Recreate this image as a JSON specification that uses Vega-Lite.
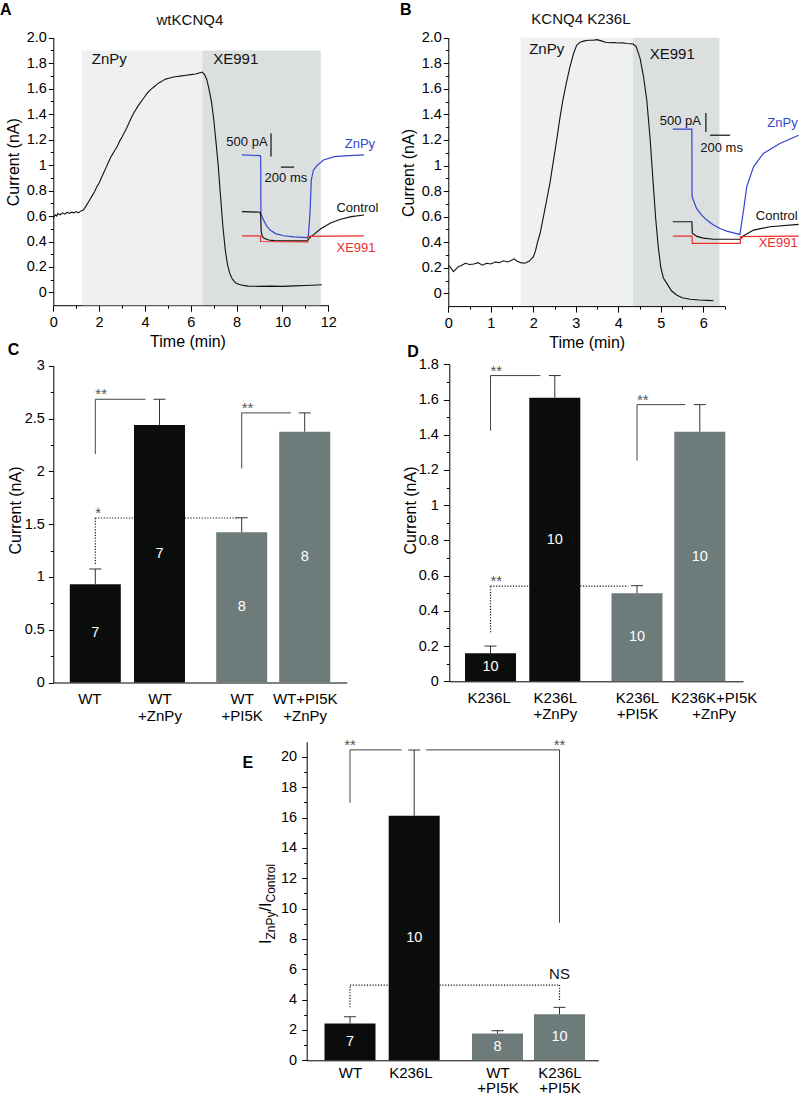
{
"$schema":"https://vega.github.io/schema/vega-lite/v6.json",
"width":800,"height":1095,
"autosize":{"type":"none"},
"padding":0,
"background":"white",
"config":{"view":{"stroke":null},"font":"Liberation Sans","text":{"font":"Liberation Sans"},
"axis":{"labelFont":"Liberation Sans","titleFont":"Liberation Sans","labelFontSize":14.5,"titleFontSize":16,"titleFontWeight":"normal","labelColor":"#000","titleColor":"#000","domainColor":"#000","tickColor":"#000","grid":false,"labelFlush":false,"labelOverlap":false,"domainWidth":1,"tickWidth":1}},
"datasets":{
"barsC":[{"i":1,"pi5k":"no","value":0.93,"upper":1.075,"n":7},{"i":2,"pi5k":"no","value":2.438,"upper":2.682,"n":7},{"i":3,"pi5k":"yes","value":1.422,"upper":1.56,"n":8},{"i":4,"pi5k":"yes","value":2.375,"upper":2.553,"n":8}],
"barsD":[{"i":1,"pi5k":"no","value":0.159,"upper":0.2,"n":10},{"i":2,"pi5k":"no","value":1.61,"upper":1.736,"n":10},{"i":3,"pi5k":"yes","value":0.5,"upper":0.543,"n":10},{"i":4,"pi5k":"yes","value":1.417,"upper":1.571,"n":10}],
"barsE":[{"i":1,"pi5k":"no","value":2.43,"upper":2.87,"n":7},{"i":2,"pi5k":"no","value":16.12,"upper":20.45,"n":10},{"i":3,"pi5k":"yes","value":1.77,"upper":1.95,"n":8},{"i":4,"pi5k":"yes","value":3.03,"upper":3.49,"n":10}]
},
"resolve":{"scale":{"x":"independent","y":"independent","fill":"independent","stroke":"independent"},"axis":{"x":"independent","y":"independent"}},
"layer":[
{
"resolve":{"scale":{"fill":"independent","stroke":"independent"},"axis":{"x":"independent","y":"independent"}},
"layer":[
{"data":{"values":[{"phase":"ZnPy","start":1.24,"end":6.5},{"phase":"XE991","start":6.5,"end":11.67}]},
"mark":{"type":"rect"},
"encoding":{"x":{"field":"start","type":"quantitative","scale":{"domain":[0,12],"range":[53.3,328.3],"nice":false,"zero":false},"axis":null},"x2":{"field":"end"},
"y":{"datum":1.9,"type":"quantitative","scale":{"domain":[-0.1,2],"range":[305.2,37.7],"nice":false,"zero":false},"axis":null},"y2":{"datum":-0.1},
"fill":{"field":"phase","type":"nominal","scale":{"domain":["ZnPy","XE991"],"range":["#eef0f1","#dcdfe0"]},"legend":null}}},
{"data":{"values":[{"label":"ZnPy","t":1.68,"I":1.794},{"label":"XE991","t":6.98,"I":1.794}]},
"mark":{"type":"text","align":"left","baseline":"alphabetic","fontSize":15,"color":"#111"},
"encoding":{"x":{"field":"t","type":"quantitative","scale":{"domain":[0,12],"range":[53.3,328.3],"nice":false,"zero":false},"axis":null},"y":{"field":"I","type":"quantitative","scale":{"domain":[-0.1,2],"range":[305.2,37.7],"nice":false,"zero":false},"axis":null},"text":{"field":"label"}}},
{"data":{"values":[{"t":0,"I":0.58},{"t":0.05,"I":0.6},{"t":0.1,"I":0.61},{"t":0.15,"I":0.6},{"t":0.2,"I":0.62},{"t":0.3,"I":0.61},{"t":0.4,"I":0.625},{"t":0.5,"I":0.615},{"t":0.6,"I":0.63},{"t":0.7,"I":0.62},{"t":0.8,"I":0.63},{"t":0.9,"I":0.625},{"t":1.0,"I":0.635},{"t":1.1,"I":0.625},{"t":1.2,"I":0.64},{"t":1.3,"I":0.645},{"t":1.4,"I":0.67},{"t":1.5,"I":0.7},{"t":1.6,"I":0.73},{"t":1.7,"I":0.76},{"t":1.8,"I":0.79},{"t":1.9,"I":0.83},{"t":2.0,"I":0.86},{"t":2.1,"I":0.9},{"t":2.2,"I":0.94},{"t":2.3,"I":0.98},{"t":2.4,"I":1.02},{"t":2.5,"I":1.06},{"t":2.6,"I":1.09},{"t":2.7,"I":1.12},{"t":2.8,"I":1.15},{"t":2.9,"I":1.19},{"t":3.0,"I":1.22},{"t":3.1,"I":1.255},{"t":3.2,"I":1.29},{"t":3.3,"I":1.33},{"t":3.4,"I":1.37},{"t":3.5,"I":1.405},{"t":3.6,"I":1.435},{"t":3.7,"I":1.465},{"t":3.8,"I":1.49},{"t":3.9,"I":1.515},{"t":4.0,"I":1.54},{"t":4.1,"I":1.565},{"t":4.2,"I":1.585},{"t":4.3,"I":1.6},{"t":4.4,"I":1.615},{"t":4.5,"I":1.63},{"t":4.6,"I":1.645},{"t":4.7,"I":1.655},{"t":4.8,"I":1.665},{"t":4.9,"I":1.675},{"t":5.0,"I":1.68},{"t":5.2,"I":1.69},{"t":5.4,"I":1.695},{"t":5.6,"I":1.7},{"t":5.8,"I":1.705},{"t":6.0,"I":1.71},{"t":6.2,"I":1.715},{"t":6.4,"I":1.725},{"t":6.5,"I":1.73},{"t":6.6,"I":1.71},{"t":6.7,"I":1.67},{"t":6.8,"I":1.59},{"t":6.9,"I":1.5},{"t":7.0,"I":1.36},{"t":7.1,"I":1.18},{"t":7.2,"I":0.99},{"t":7.3,"I":0.75},{"t":7.4,"I":0.52},{"t":7.5,"I":0.34},{"t":7.6,"I":0.22},{"t":7.7,"I":0.15},{"t":7.8,"I":0.11},{"t":7.9,"I":0.085},{"t":8.0,"I":0.07},{"t":8.2,"I":0.058},{"t":8.5,"I":0.05},{"t":9.0,"I":0.048},{"t":9.5,"I":0.05},{"t":10.0,"I":0.048},{"t":10.5,"I":0.052},{"t":11.0,"I":0.055},{"t":11.5,"I":0.058},{"t":11.72,"I":0.06}]},
"mark":{"type":"line","color":"#111","strokeWidth":1.1},
"encoding":{"x":{"field":"t","type":"quantitative","scale":{"domain":[0,12],"range":[53.3,328.3],"nice":false,"zero":false},"axis":{"orient":"bottom","offset":-789.8,"values":[0,2,4,6,8,10,12],"tickSize":6,"labelPadding":4,"title":"Time (min)","titleX":187.5,"titleY":41,"titleBaseline":"alphabetic"}},
"y":{"field":"I","type":"quantitative","scale":{"domain":[-0.1,2],"range":[305.2,37.7],"nice":false,"zero":false},"axis":{"orient":"left","offset":-53.3,"values":[0,0.2,0.4,0.6,0.8,1,1.2,1.4,1.6,1.8,2],"labelExpr":"datum.value == 2 ? '2.0' : format(datum.value, '~g')","tickSize":5,"labelPadding":2,"title":"Current (nA)","titleX":-40,"titleY":161.7,"titleBaseline":"middle"}}}},
{"data":{"values":[{"trace":"ZnPy","t":8.23,"I":1.08},{"trace":"ZnPy","t":9.03,"I":1.074},{"trace":"ZnPy","t":9.05,"I":1.06},{"trace":"ZnPy","t":9.06,"I":0.62},{"trace":"ZnPy","t":9.17,"I":0.57},{"trace":"ZnPy","t":9.3,"I":0.525},{"trace":"ZnPy","t":9.46,"I":0.49},{"trace":"ZnPy","t":9.7,"I":0.462},{"trace":"ZnPy","t":10.05,"I":0.445},{"trace":"ZnPy","t":10.5,"I":0.436},{"trace":"ZnPy","t":11.09,"I":0.43},{"trace":"ZnPy","t":11.13,"I":0.44},{"trace":"ZnPy","t":11.2,"I":0.623},{"trace":"ZnPy","t":11.26,"I":0.885},{"trace":"ZnPy","t":11.35,"I":0.96},{"trace":"ZnPy","t":11.5,"I":0.995},{"trace":"ZnPy","t":11.79,"I":1.04},{"trace":"ZnPy","t":12.27,"I":1.066},{"trace":"ZnPy","t":12.9,"I":1.075},{"trace":"ZnPy","t":13.56,"I":1.08},
{"trace":"Control","t":8.23,"I":0.635},{"trace":"Control","t":8.6,"I":0.633},{"trace":"Control","t":9.03,"I":0.63},{"trace":"Control","t":9.05,"I":0.6},{"trace":"Control","t":9.07,"I":0.48},{"trace":"Control","t":9.12,"I":0.44},{"trace":"Control","t":9.2,"I":0.425},{"trace":"Control","t":9.4,"I":0.412},{"trace":"Control","t":9.63,"I":0.407},{"trace":"Control","t":10.4,"I":0.405},{"trace":"Control","t":11.09,"I":0.405},{"trace":"Control","t":11.16,"I":0.425},{"trace":"Control","t":11.4,"I":0.46},{"trace":"Control","t":11.67,"I":0.5},{"trace":"Control","t":12.1,"I":0.545},{"trace":"Control","t":12.54,"I":0.575},{"trace":"Control","t":13.0,"I":0.595},{"trace":"Control","t":13.56,"I":0.608},
{"trace":"XE991","t":8.23,"I":0.445},{"trace":"XE991","t":9.04,"I":0.445},{"trace":"XE991","t":9.045,"I":0.4},{"trace":"XE991","t":11.1,"I":0.397},{"trace":"XE991","t":11.105,"I":0.44},{"trace":"XE991","t":13.56,"I":0.445}]},
"mark":{"type":"line","strokeWidth":1.2},
"encoding":{"x":{"field":"t","type":"quantitative","scale":{"domain":[0,12],"range":[53.3,328.3],"nice":false,"zero":false},"axis":{"orient":"bottom","offset":-789.8,"values":[1,3,5,7,9,11],"labels":false,"domain":false,"tickSize":3,"title":null}},
"y":{"field":"I","type":"quantitative","scale":{"domain":[-0.1,2],"range":[305.2,37.7],"nice":false,"zero":false},"axis":{"orient":"left","offset":-53.3,"values":[0.1,0.3,0.5,0.7,0.9,1.1,1.3,1.5,1.7,1.9],"labels":false,"domain":false,"tickSize":3,"title":null}},
"stroke":{"field":"trace","type":"nominal","scale":{"domain":["ZnPy","Control","XE991"],"range":["#3346d0","#111111","#e8302a"]},"legend":null}}},
{"data":{"values":[{"trace":"ZnPy","t":13.38,"I":1.133},{"trace":"Control","t":13.27,"I":0.635},{"trace":"XE991","t":13.21,"I":0.314}]},
"mark":{"type":"text","align":"center","baseline":"alphabetic","fontSize":13},
"encoding":{"x":{"field":"t","type":"quantitative","scale":{"domain":[0,12],"range":[53.3,328.3],"nice":false,"zero":false},"axis":null},"y":{"field":"I","type":"quantitative","scale":{"domain":[-0.1,2],"range":[305.2,37.7],"nice":false,"zero":false},"axis":null},"text":{"field":"trace"},
"fill":{"field":"trace","type":"nominal","scale":{"domain":["ZnPy","Control","XE991"],"range":["#3346d0","#111111","#e8302a"]},"legend":null}}},
{"data":{"values":[{"bar":"500 pA","t":9.5,"t2":9.5,"I":1.067,"I2":1.25},{"bar":"200 ms","t":9.93,"t2":10.51,"I":0.984,"I2":0.984}]},
"mark":{"type":"rule","color":"#111","strokeWidth":1.2},
"encoding":{"x":{"field":"t","type":"quantitative","scale":{"domain":[0,12],"range":[53.3,328.3],"nice":false,"zero":false},"axis":null},"x2":{"field":"t2"},"y":{"field":"I","type":"quantitative","scale":{"domain":[-0.1,2],"range":[305.2,37.7],"nice":false,"zero":false},"axis":null},"y2":{"field":"I2"}}},
{"data":{"values":[{"text":"500 pA","t":8.45,"I":1.15},{"text":"200 ms","t":10.15,"I":0.871}]},
"mark":{"type":"text","align":"center","baseline":"alphabetic","fontSize":13,"color":"#111"},
"encoding":{"x":{"field":"t","type":"quantitative","scale":{"domain":[0,12],"range":[53.3,328.3],"nice":false,"zero":false},"axis":null},"y":{"field":"I","type":"quantitative","scale":{"domain":[-0.1,2],"range":[305.2,37.7],"nice":false,"zero":false},"axis":null},"text":{"field":"text"}}},
{"data":{"values":[{"text":"wtKCNQ4","t":5.96,"I":2.098}]},
"mark":{"type":"text","align":"center","baseline":"alphabetic","fontSize":15,"color":"#111"},
"encoding":{"x":{"field":"t","type":"quantitative","scale":{"domain":[0,12],"range":[53.3,328.3],"nice":false,"zero":false},"axis":null},"y":{"field":"I","type":"quantitative","scale":{"domain":[-0.1,2],"range":[305.2,37.7],"nice":false,"zero":false},"axis":null},"text":{"field":"text"}}},
{"data":{"values":[{"text":"A","t":-2.326,"I":2.176}]},
"mark":{"type":"text","align":"left","baseline":"alphabetic","fontSize":16,"fontWeight":"bold","color":"#000"},
"encoding":{"x":{"field":"t","type":"quantitative","scale":{"domain":[0,12],"range":[53.3,328.3],"nice":false,"zero":false},"axis":null},"y":{"field":"I","type":"quantitative","scale":{"domain":[-0.1,2],"range":[305.2,37.7],"nice":false,"zero":false},"axis":null},"text":{"field":"text"}}}
]},
{
"resolve":{"scale":{"fill":"independent","stroke":"independent"},"axis":{"x":"independent","y":"independent"}},
"layer":[
{"data":{"values":[{"phase":"ZnPy","start":1.7,"end":4.346},{"phase":"XE991","start":4.346,"end":6.38}]},
"mark":{"type":"rect"},
"encoding":{"x":{"field":"start","type":"quantitative","scale":{"domain":[0,6.5],"range":[448.3,724.6],"nice":false,"zero":false},"axis":null},"x2":{"field":"end"},
"y":{"datum":2,"type":"quantitative","scale":{"domain":[-0.1,2],"range":[306.1,37.7],"nice":false,"zero":false},"axis":null},"y2":{"datum":-0.1},
"fill":{"field":"phase","type":"nominal","scale":{"domain":["ZnPy","XE991"],"range":["#eef0f1","#dcdfe0"]},"legend":null}}},
{"data":{"values":[{"label":"ZnPy","t":1.903,"I":1.87},{"label":"XE991","t":4.738,"I":1.836}]},
"mark":{"type":"text","align":"left","baseline":"alphabetic","fontSize":15,"color":"#111"},
"encoding":{"x":{"field":"t","type":"quantitative","scale":{"domain":[0,6.5],"range":[448.3,724.6],"nice":false,"zero":false},"axis":null},"y":{"field":"I","type":"quantitative","scale":{"domain":[-0.1,2],"range":[306.1,37.7],"nice":false,"zero":false},"axis":null},"text":{"field":"label"}}},
{"data":{"values":[{"t":0,"I":0.22},{"t":0.06,"I":0.2},{"t":0.12,"I":0.17},{"t":0.18,"I":0.19},{"t":0.24,"I":0.21},{"t":0.3,"I":0.215},{"t":0.4,"I":0.235},{"t":0.5,"I":0.225},{"t":0.6,"I":0.23},{"t":0.7,"I":0.24},{"t":0.8,"I":0.22},{"t":0.9,"I":0.235},{"t":1.0,"I":0.23},{"t":1.1,"I":0.245},{"t":1.2,"I":0.24},{"t":1.3,"I":0.255},{"t":1.4,"I":0.245},{"t":1.5,"I":0.26},{"t":1.55,"I":0.27},{"t":1.6,"I":0.255},{"t":1.7,"I":0.24},{"t":1.8,"I":0.235},{"t":1.9,"I":0.25},{"t":2.0,"I":0.285},{"t":2.05,"I":0.33},{"t":2.1,"I":0.4},{"t":2.16,"I":0.47},{"t":2.25,"I":0.62},{"t":2.32,"I":0.74},{"t":2.39,"I":0.86},{"t":2.47,"I":1.03},{"t":2.55,"I":1.2},{"t":2.63,"I":1.38},{"t":2.7,"I":1.52},{"t":2.78,"I":1.65},{"t":2.86,"I":1.77},{"t":2.95,"I":1.88},{"t":3.02,"I":1.94},{"t":3.1,"I":1.965},{"t":3.2,"I":1.975},{"t":3.3,"I":1.98},{"t":3.4,"I":1.98},{"t":3.5,"I":1.985},{"t":3.6,"I":1.975},{"t":3.7,"I":1.965},{"t":3.8,"I":1.96},{"t":3.9,"I":1.962},{"t":4.0,"I":1.958},{"t":4.1,"I":1.96},{"t":4.2,"I":1.955},{"t":4.3,"I":1.953},{"t":4.35,"I":1.95},{"t":4.42,"I":1.93},{"t":4.51,"I":1.84},{"t":4.59,"I":1.7},{"t":4.67,"I":1.51},{"t":4.75,"I":1.2},{"t":4.82,"I":0.86},{"t":4.88,"I":0.58},{"t":4.94,"I":0.36},{"t":5.0,"I":0.2},{"t":5.06,"I":0.12},{"t":5.14,"I":0.078},{"t":5.25,"I":0.02},{"t":5.37,"I":-0.013},{"t":5.5,"I":-0.035},{"t":5.69,"I":-0.047},{"t":5.9,"I":-0.052},{"t":6.1,"I":-0.055},{"t":6.24,"I":-0.058}]},
"mark":{"type":"line","color":"#111","strokeWidth":1.1},
"encoding":{"x":{"field":"t","type":"quantitative","scale":{"domain":[0,6.5],"range":[448.3,724.6],"nice":false,"zero":false},"axis":{"orient":"bottom","offset":-788.9,"values":[0,1,2,3,4,5,6],"tickSize":6,"labelPadding":4,"title":"Time (min)","titleX":586.7,"titleY":41,"titleBaseline":"alphabetic"}},
"y":{"field":"I","type":"quantitative","scale":{"domain":[-0.1,2],"range":[306.1,37.7],"nice":false,"zero":false},"axis":{"orient":"left","offset":-448.3,"values":[0,0.2,0.4,0.6,0.8,1,1.2,1.4,1.6,1.8,2],"labelExpr":"datum.value == 2 ? '2.0' : format(datum.value, '~g')","tickSize":5,"labelPadding":2,"title":"Current (nA)","titleX":-40.3,"titleY":172.5,"titleBaseline":"middle"}}}},
{"data":{"values":[{"trace":"ZnPy","t":5.28,"I":1.284},{"trace":"ZnPy","t":5.73,"I":1.284},{"trace":"ZnPy","t":5.735,"I":0.755},{"trace":"ZnPy","t":5.84,"I":0.664},{"trace":"ZnPy","t":5.95,"I":0.615},{"trace":"ZnPy","t":6.08,"I":0.573},{"trace":"ZnPy","t":6.23,"I":0.537},{"trace":"ZnPy","t":6.39,"I":0.507},{"trace":"ZnPy","t":6.55,"I":0.487},{"trace":"ZnPy","t":6.71,"I":0.473},{"trace":"ZnPy","t":6.86,"I":0.461},{"trace":"ZnPy","t":6.957,"I":0.677},{"trace":"ZnPy","t":7.02,"I":0.833},{"trace":"ZnPy","t":7.18,"I":0.99},{"trace":"ZnPy","t":7.41,"I":1.094},{"trace":"ZnPy","t":7.8,"I":1.172},{"trace":"ZnPy","t":8.24,"I":1.237},
{"trace":"Control","t":5.28,"I":0.56},{"trace":"Control","t":5.73,"I":0.56},{"trace":"Control","t":5.74,"I":0.47},{"trace":"Control","t":5.85,"I":0.445},{"trace":"Control","t":6.0,"I":0.432},{"trace":"Control","t":6.24,"I":0.423},{"trace":"Control","t":6.86,"I":0.423},{"trace":"Control","t":6.94,"I":0.449},{"trace":"Control","t":7.18,"I":0.495},{"trace":"Control","t":7.57,"I":0.521},{"trace":"Control","t":8.24,"I":0.539},
{"trace":"XE991","t":5.28,"I":0.448},{"trace":"XE991","t":5.735,"I":0.448},{"trace":"XE991","t":5.74,"I":0.39},{"trace":"XE991","t":6.87,"I":0.39},{"trace":"XE991","t":6.875,"I":0.443},{"trace":"XE991","t":8.24,"I":0.448}]},
"mark":{"type":"line","strokeWidth":1.2},
"encoding":{"x":{"field":"t","type":"quantitative","scale":{"domain":[0,6.5],"range":[448.3,724.6],"nice":false,"zero":false},"axis":{"orient":"bottom","offset":-788.9,"values":[0.5,1.5,2.5,3.5,4.5,5.5,6.5],"labels":false,"domain":false,"tickSize":3,"title":null}},
"y":{"field":"I","type":"quantitative","scale":{"domain":[-0.1,2],"range":[306.1,37.7],"nice":false,"zero":false},"axis":{"orient":"left","offset":-448.3,"values":[0.1,0.3,0.5,0.7,0.9,1.1,1.3,1.5,1.7,1.9],"labels":false,"domain":false,"tickSize":3,"title":null}},
"stroke":{"field":"trace","type":"nominal","scale":{"domain":["ZnPy","Control","XE991"],"range":["#3346d0","#111111","#e8302a"]},"legend":null}}},
{"data":{"values":[{"trace":"ZnPy","t":8.22,"I":1.3},{"trace":"Control","t":8.22,"I":0.573},{"trace":"XE991","t":8.22,"I":0.36}]},
"mark":{"type":"text","align":"right","baseline":"alphabetic","fontSize":13},
"encoding":{"x":{"field":"t","type":"quantitative","scale":{"domain":[0,6.5],"range":[448.3,724.6],"nice":false,"zero":false},"axis":null},"y":{"field":"I","type":"quantitative","scale":{"domain":[-0.1,2],"range":[306.1,37.7],"nice":false,"zero":false},"axis":null},"text":{"field":"trace"},
"fill":{"field":"trace","type":"nominal","scale":{"domain":["ZnPy","Control","XE991"],"range":["#3346d0","#111111","#e8302a"]},"legend":null}}},
{"data":{"values":[{"bar":"500 pA","t":6.06,"t2":6.06,"I":1.262,"I2":1.41},{"bar":"200 ms","t":6.16,"t2":6.63,"I":1.237,"I2":1.237}]},
"mark":{"type":"rule","color":"#111","strokeWidth":1.2},
"encoding":{"x":{"field":"t","type":"quantitative","scale":{"domain":[0,6.5],"range":[448.3,724.6],"nice":false,"zero":false},"axis":null},"x2":{"field":"t2"},"y":{"field":"I","type":"quantitative","scale":{"domain":[-0.1,2],"range":[306.1,37.7],"nice":false,"zero":false},"axis":null},"y2":{"field":"I2"}}},
{"data":{"values":[{"text":"500 pA","t":5.46,"I":1.315},{"text":"200 ms","t":6.43,"I":1.106}]},
"mark":{"type":"text","align":"center","baseline":"alphabetic","fontSize":13,"color":"#111"},
"encoding":{"x":{"field":"t","type":"quantitative","scale":{"domain":[0,6.5],"range":[448.3,724.6],"nice":false,"zero":false},"axis":null},"y":{"field":"I","type":"quantitative","scale":{"domain":[-0.1,2],"range":[306.1,37.7],"nice":false,"zero":false},"axis":null},"text":{"field":"text"}}},
{"data":{"values":[{"text":"KCNQ4 K236L","t":3.12,"I":2.106}]},
"mark":{"type":"text","align":"center","baseline":"alphabetic","fontSize":15,"color":"#111"},
"encoding":{"x":{"field":"t","type":"quantitative","scale":{"domain":[0,6.5],"range":[448.3,724.6],"nice":false,"zero":false},"axis":null},"y":{"field":"I","type":"quantitative","scale":{"domain":[-0.1,2],"range":[306.1,37.7],"nice":false,"zero":false},"axis":null},"text":{"field":"text"}}},
{"data":{"values":[{"text":"B","t":-1.135,"I":2.176}]},
"mark":{"type":"text","align":"left","baseline":"alphabetic","fontSize":16,"fontWeight":"bold","color":"#000"},
"encoding":{"x":{"field":"t","type":"quantitative","scale":{"domain":[0,6.5],"range":[448.3,724.6],"nice":false,"zero":false},"axis":null},"y":{"field":"I","type":"quantitative","scale":{"domain":[-0.1,2],"range":[306.1,37.7],"nice":false,"zero":false},"axis":null},"text":{"field":"text"}}}
]},
{
"resolve":{"axis":{"x":"independent","y":"independent"}},
"layer":[
{"data":{"name":"barsC"},
"mark":{"type":"bar","width":51,"orient":"vertical"},
"encoding":{"x":{"field":"i","type":"quantitative","scale":{"domain":[0,1,2,3,4,5],"range":[53.3,95.3,159.5,241.7,304.7,346.7],"nice":false,"zero":false},"axis":{"orient":"bottom","offset":-412.5,"values":[0.845,2,3,4],"labelExpr":"datum.value == 0.845 ? 'WT' : datum.value == 2 ? ['WT', '+ZnPy'] : datum.value == 3 ? ['WT', '+PI5K'] : ['WT+PI5K', '+ZnPy']","ticks":false,"tickSize":0,"labelPadding":9,"labelFontSize":15,"labelLineHeight":16.5,"labelAngle":0,"title":null}},
"y":{"field":"value","type":"quantitative","stack":null,"scale":{"domain":[0,3],"range":[682.5,365.7],"nice":false,"zero":false},"axis":{"orient":"left","offset":-53.3,"values":[0,0.5,1,1.5,2,2.5,3],"format":"~g","tickSize":5,"labelPadding":4,"title":"Current (nA)","titleX":-38.3,"titleY":510,"titleBaseline":"middle"}},
"fill":{"field":"pi5k","type":"nominal","scale":{"domain":["no","yes"],"range":["#0b0d0c","#6e7b7b"]},"legend":null}}},
{"data":{"name":"barsC"},
"mark":{"type":"rule","color":"#333","strokeWidth":1},
"encoding":{"x":{"field":"i","type":"quantitative","scale":{"domain":[0,1,2,3,4,5],"range":[53.3,95.3,159.5,241.7,304.7,346.7],"nice":false,"zero":false},"axis":null},
"y":{"field":"value","type":"quantitative","scale":{"domain":[0,3],"range":[682.5,365.7],"nice":false,"zero":false},"axis":{"orient":"left","offset":-53.3,"values":[0.25,0.75,1.25,1.75,2.25,2.75],"labels":false,"domain":false,"tickSize":3,"title":null}},"y2":{"field":"upper"}}},
{"data":{"name":"barsC"},
"mark":{"type":"rule","color":"#333","strokeWidth":1,"xOffset":-6,"x2Offset":6},
"encoding":{"x":{"field":"i","type":"quantitative","scale":{"domain":[0,1,2,3,4,5],"range":[53.3,95.3,159.5,241.7,304.7,346.7],"nice":false,"zero":false},"axis":null},"x2":{"field":"i"},
"y":{"field":"upper","type":"quantitative","scale":{"domain":[0,3],"range":[682.5,365.7],"nice":false,"zero":false},"axis":null}}},
{"data":{"values":[{"from":1,"to":2,"level":2.682},{"from":3,"to":4,"level":2.553}]},
"mark":{"type":"rule","color":"#444","strokeWidth":1,"x2Offset":-14},
"encoding":{"x":{"field":"from","type":"quantitative","scale":{"domain":[0,1,2,3,4,5],"range":[53.3,95.3,159.5,241.7,304.7,346.7],"nice":false,"zero":false},"axis":null},"x2":{"field":"to"},
"y":{"field":"level","type":"quantitative","scale":{"domain":[0,3],"range":[682.5,365.7],"nice":false,"zero":false},"axis":null}}},
{"data":{"values":[{"at":1,"bottom":2.164,"top":2.682},{"at":3,"bottom":2.028,"top":2.553}]},
"mark":{"type":"rule","color":"#444","strokeWidth":1},
"encoding":{"x":{"field":"at","type":"quantitative","scale":{"domain":[0,1,2,3,4,5],"range":[53.3,95.3,159.5,241.7,304.7,346.7],"nice":false,"zero":false},"axis":null},
"y":{"field":"bottom","type":"quantitative","scale":{"domain":[0,3],"range":[682.5,365.7],"nice":false,"zero":false},"axis":null},"y2":{"field":"top"}}},
{"data":{"values":[{"from":1,"to":3,"level":1.558}]},
"mark":{"type":"rule","color":"#111","strokeWidth":1.2,"strokeDash":[1.2,1.6],"x2Offset":-4},
"encoding":{"x":{"field":"from","type":"quantitative","scale":{"domain":[0,1,2,3,4,5],"range":[53.3,95.3,159.5,241.7,304.7,346.7],"nice":false,"zero":false},"axis":null},"x2":{"field":"to"},
"y":{"field":"level","type":"quantitative","scale":{"domain":[0,3],"range":[682.5,365.7],"nice":false,"zero":false},"axis":null}}},
{"data":{"values":[{"at":1,"bottom":1.122,"top":1.558}]},
"mark":{"type":"rule","color":"#111","strokeWidth":1.2,"strokeDash":[1.2,1.6]},
"encoding":{"x":{"field":"at","type":"quantitative","scale":{"domain":[0,1,2,3,4,5],"range":[53.3,95.3,159.5,241.7,304.7,346.7],"nice":false,"zero":false},"axis":null},
"y":{"field":"bottom","type":"quantitative","scale":{"domain":[0,3],"range":[682.5,365.7],"nice":false,"zero":false},"axis":null},"y2":{"field":"top"}}},
{"data":{"values":[{"at":1,"level":2.682,"label":"**"},{"at":3,"level":2.553,"label":"**"},{"at":1,"level":1.558,"label":"*"}]},
"mark":{"type":"text","align":"left","baseline":"alphabetic","fontSize":15,"color":"#555"},
"encoding":{"x":{"field":"at","type":"quantitative","scale":{"domain":[0,1,2,3,4,5],"range":[53.3,95.3,159.5,241.7,304.7,346.7],"nice":false,"zero":false},"axis":null},
"y":{"field":"level","type":"quantitative","scale":{"domain":[0,3],"range":[682.5,365.7],"nice":false,"zero":false},"axis":null},"text":{"field":"label"}}},
{"data":{"values":[{"text":"C","x":-1.269,"y":3.097}]},
"mark":{"type":"text","align":"left","baseline":"alphabetic","fontSize":16,"fontWeight":"bold","color":"#000"},
"encoding":{"x":{"field":"x","type":"quantitative","scale":{"domain":[0,1,2,3,4,5],"range":[53.3,95.3,159.5,241.7,304.7,346.7],"nice":false,"zero":false},"axis":null},
"y":{"field":"y","type":"quantitative","scale":{"domain":[0,3],"range":[682.5,365.7],"nice":false,"zero":false},"axis":null},"text":{"field":"text"}}}
]},
{"data":{"name":"barsC"},
"mark":{"type":"text","color":"#fff","fontSize":14.5,"baseline":"middle","align":"center"},
"encoding":{"x":{"field":"i","type":"quantitative","scale":{"domain":[0,1,2,3,4,5],"range":[53.3,95.3,159.5,241.7,304.7,346.7],"nice":false,"zero":false},"axis":null},
"y":{"field":"value","type":"quantitative","scale":{"domain":[0,6],"range":[682.5,365.7],"nice":false,"zero":false},"axis":null},"text":{"field":"n"}}},
{
"resolve":{"axis":{"x":"independent","y":"independent"}},
"layer":[
{"data":{"name":"barsD"},
"mark":{"type":"bar","width":51,"orient":"vertical"},
"encoding":{"x":{"field":"i","type":"quantitative","scale":{"domain":[0,1,2,3,4,5],"range":[449.3,490.5,554.8,637,699.8,743],"nice":false,"zero":false},"axis":{"orient":"bottom","offset":-413.7,"values":[0.95,2,3,4.35],"labelExpr":"datum.value == 0.95 ? 'K236L' : datum.value == 2 ? ['K236L', '+ZnPy'] : datum.value == 3 ? ['K236L', '+PI5K'] : ['K236K+PI5K', '+ZnPy']","ticks":false,"tickSize":0,"labelPadding":9,"labelFontSize":15,"labelLineHeight":16.5,"labelAngle":0,"title":null}},
"y":{"field":"value","type":"quantitative","stack":null,"scale":{"domain":[0,1.8],"range":[681.3,364.3],"nice":false,"zero":false},"axis":{"orient":"left","offset":-449.3,"values":[0,0.2,0.4,0.6,0.8,1,1.2,1.4,1.6,1.8],"format":"~g","tickSize":6,"labelPadding":5,"title":"Current (nA)","titleX":-39.3,"titleY":510,"titleBaseline":"middle"}},
"fill":{"field":"pi5k","type":"nominal","scale":{"domain":["no","yes"],"range":["#0b0d0c","#6e7b7b"]},"legend":null}}},
{"data":{"name":"barsD"},
"mark":{"type":"rule","color":"#333","strokeWidth":1},
"encoding":{"x":{"field":"i","type":"quantitative","scale":{"domain":[0,1,2,3,4,5],"range":[449.3,490.5,554.8,637,699.8,743],"nice":false,"zero":false},"axis":null},
"y":{"field":"value","type":"quantitative","scale":{"domain":[0,1.8],"range":[681.3,364.3],"nice":false,"zero":false},"axis":{"orient":"left","offset":-449.3,"values":[0.1,0.3,0.5,0.7,0.9,1.1,1.3,1.5,1.7],"labels":false,"domain":false,"tickSize":3,"title":null}},"y2":{"field":"upper"}}},
{"data":{"name":"barsD"},
"mark":{"type":"rule","color":"#333","strokeWidth":1,"xOffset":-6,"x2Offset":6},
"encoding":{"x":{"field":"i","type":"quantitative","scale":{"domain":[0,1,2,3,4,5],"range":[449.3,490.5,554.8,637,699.8,743],"nice":false,"zero":false},"axis":null},"x2":{"field":"i"},
"y":{"field":"upper","type":"quantitative","scale":{"domain":[0,1.8],"range":[681.3,364.3],"nice":false,"zero":false},"axis":null}}},
{"data":{"values":[{"from":1,"to":2,"level":1.736},{"from":3,"to":4,"level":1.571}]},
"mark":{"type":"rule","color":"#444","strokeWidth":1,"x2Offset":-14.5},
"encoding":{"x":{"field":"from","type":"quantitative","scale":{"domain":[0,1,2,3,4,5],"range":[449.3,490.5,554.8,637,699.8,743],"nice":false,"zero":false},"axis":null},"x2":{"field":"to"},
"y":{"field":"level","type":"quantitative","scale":{"domain":[0,1.8],"range":[681.3,364.3],"nice":false,"zero":false},"axis":null}}},
{"data":{"values":[{"at":1,"bottom":1.423,"top":1.736},{"at":3,"bottom":1.253,"top":1.571}]},
"mark":{"type":"rule","color":"#444","strokeWidth":1},
"encoding":{"x":{"field":"at","type":"quantitative","scale":{"domain":[0,1,2,3,4,5],"range":[449.3,490.5,554.8,637,699.8,743],"nice":false,"zero":false},"axis":null},
"y":{"field":"bottom","type":"quantitative","scale":{"domain":[0,1.8],"range":[681.3,364.3],"nice":false,"zero":false},"axis":null},"y2":{"field":"top"}}},
{"data":{"values":[{"from":1,"to":3,"level":0.54}]},
"mark":{"type":"rule","color":"#111","strokeWidth":1.2,"strokeDash":[1.2,1.6],"x2Offset":-8.7},
"encoding":{"x":{"field":"from","type":"quantitative","scale":{"domain":[0,1,2,3,4,5],"range":[449.3,490.5,554.8,637,699.8,743],"nice":false,"zero":false},"axis":null},"x2":{"field":"to"},
"y":{"field":"level","type":"quantitative","scale":{"domain":[0,1.8],"range":[681.3,364.3],"nice":false,"zero":false},"axis":null}}},
{"data":{"values":[{"at":1,"bottom":0.278,"top":0.54}]},
"mark":{"type":"rule","color":"#111","strokeWidth":1.2,"strokeDash":[1.2,1.6]},
"encoding":{"x":{"field":"at","type":"quantitative","scale":{"domain":[0,1,2,3,4,5],"range":[449.3,490.5,554.8,637,699.8,743],"nice":false,"zero":false},"axis":null},
"y":{"field":"bottom","type":"quantitative","scale":{"domain":[0,1.8],"range":[681.3,364.3],"nice":false,"zero":false},"axis":null},"y2":{"field":"top"}}},
{"data":{"values":[{"at":1,"level":1.736,"label":"**"},{"at":3,"level":1.571,"label":"**"},{"at":1,"level":0.54,"label":"**"}]},
"mark":{"type":"text","align":"left","baseline":"alphabetic","fontSize":15,"color":"#555"},
"encoding":{"x":{"field":"at","type":"quantitative","scale":{"domain":[0,1,2,3,4,5],"range":[449.3,490.5,554.8,637,699.8,743],"nice":false,"zero":false},"axis":null},
"y":{"field":"level","type":"quantitative","scale":{"domain":[0,1.8],"range":[681.3,364.3],"nice":false,"zero":false},"axis":null},"text":{"field":"label"}}},
{"data":{"values":[{"text":"D","x":-1.197,"y":1.841}]},
"mark":{"type":"text","align":"left","baseline":"alphabetic","fontSize":16,"fontWeight":"bold","color":"#000"},
"encoding":{"x":{"field":"x","type":"quantitative","scale":{"domain":[0,1,2,3,4,5],"range":[449.3,490.5,554.8,637,699.8,743],"nice":false,"zero":false},"axis":null},
"y":{"field":"y","type":"quantitative","scale":{"domain":[0,1.8],"range":[681.3,364.3],"nice":false,"zero":false},"axis":null},"text":{"field":"text"}}}
]},
{"data":{"name":"barsD"},
"mark":{"type":"text","color":"#fff","fontSize":14.5,"baseline":"middle","align":"center"},
"encoding":{"x":{"field":"i","type":"quantitative","scale":{"domain":[0,1,2,3,4,5],"range":[449.3,490.5,554.8,637,699.8,743],"nice":false,"zero":false},"axis":null},
"y":{"field":"value","type":"quantitative","scale":{"domain":[0,3.6],"range":[681.3,364.3],"nice":false,"zero":false},"axis":null},"text":{"field":"n"}}},
{
"resolve":{"axis":{"x":"independent","y":"independent"}},
"layer":[
{"data":{"name":"barsE"},
"mark":{"type":"bar","width":51,"orient":"vertical"},
"encoding":{"x":{"field":"i","type":"quantitative","scale":{"domain":[0,1,2,3,4,5],"range":[306.7,350,414.2,497.5,559.5,598.3],"nice":false,"zero":false},"axis":{"orient":"bottom","offset":-34.7,"values":[1,1.94,3,4],"labelExpr":"datum.value == 1 ? 'WT' : datum.value == 1.94 ? 'K236L' : datum.value == 3 ? ['WT', '+PI5K'] : ['K236L', '+PI5K']","ticks":false,"tickSize":0,"labelPadding":5,"labelFontSize":15,"labelLineHeight":15.5,"labelAngle":0,"title":null}},
"y":{"field":"value","type":"quantitative","stack":null,"scale":{"domain":[0,21],"range":[1060.3,741.7],"nice":false,"zero":false},"axis":{"orient":"left","offset":-306.7,"values":[0,2,4,6,8,10,12,14,16,18,20],"format":"~g","tickSize":5,"labelPadding":5,"title":null}},
"fill":{"field":"pi5k","type":"nominal","scale":{"domain":["no","yes"],"range":["#0b0d0c","#6e7b7b"]},"legend":null}}},
{"data":{"name":"barsE"},
"mark":{"type":"rule","color":"#333","strokeWidth":1},
"encoding":{"x":{"field":"i","type":"quantitative","scale":{"domain":[0,1,2,3,4,5],"range":[306.7,350,414.2,497.5,559.5,598.3],"nice":false,"zero":false},"axis":null},
"y":{"field":"value","type":"quantitative","scale":{"domain":[0,21],"range":[1060.3,741.7],"nice":false,"zero":false},"axis":{"orient":"left","offset":-306.7,"values":[1,3,5,7,9,11,13,15,17,19],"labels":false,"domain":false,"tickSize":3,"title":null}},"y2":{"field":"upper"}}},
{"data":{"name":"barsE"},
"mark":{"type":"rule","color":"#333","strokeWidth":1,"xOffset":-6,"x2Offset":6},
"encoding":{"x":{"field":"i","type":"quantitative","scale":{"domain":[0,1,2,3,4,5],"range":[306.7,350,414.2,497.5,559.5,598.3],"nice":false,"zero":false},"axis":null},"x2":{"field":"i"},
"y":{"field":"upper","type":"quantitative","scale":{"domain":[0,21],"range":[1060.3,741.7],"nice":false,"zero":false},"axis":null}}},
{"data":{"values":[{"from":1,"to":2,"level":20.46}]},
"mark":{"type":"rule","color":"#444","strokeWidth":1,"x2Offset":-12.5},
"encoding":{"x":{"field":"from","type":"quantitative","scale":{"domain":[0,1,2,3,4,5],"range":[306.7,350,414.2,497.5,559.5,598.3],"nice":false,"zero":false},"axis":null},"x2":{"field":"to"},
"y":{"field":"level","type":"quantitative","scale":{"domain":[0,21],"range":[1060.3,741.7],"nice":false,"zero":false},"axis":null}}},
{"data":{"values":[{"from":2,"to":4,"level":20.46}]},
"mark":{"type":"rule","color":"#444","strokeWidth":1,"xOffset":12},
"encoding":{"x":{"field":"from","type":"quantitative","scale":{"domain":[0,1,2,3,4,5],"range":[306.7,350,414.2,497.5,559.5,598.3],"nice":false,"zero":false},"axis":null},"x2":{"field":"to"},
"y":{"field":"level","type":"quantitative","scale":{"domain":[0,21],"range":[1060.3,741.7],"nice":false,"zero":false},"axis":null}}},
{"data":{"values":[{"at":1,"bottom":16.98,"top":20.46},{"at":4,"bottom":9.07,"top":20.46}]},
"mark":{"type":"rule","color":"#444","strokeWidth":1},
"encoding":{"x":{"field":"at","type":"quantitative","scale":{"domain":[0,1,2,3,4,5],"range":[306.7,350,414.2,497.5,559.5,598.3],"nice":false,"zero":false},"axis":null},
"y":{"field":"bottom","type":"quantitative","scale":{"domain":[0,21],"range":[1060.3,741.7],"nice":false,"zero":false},"axis":null},"y2":{"field":"top"}}},
{"data":{"values":[{"from":1,"to":4,"level":4.96}]},
"mark":{"type":"rule","color":"#111","strokeWidth":1.2,"strokeDash":[1.2,1.6]},
"encoding":{"x":{"field":"from","type":"quantitative","scale":{"domain":[0,1,2,3,4,5],"range":[306.7,350,414.2,497.5,559.5,598.3],"nice":false,"zero":false},"axis":null},"x2":{"field":"to"},
"y":{"field":"level","type":"quantitative","scale":{"domain":[0,21],"range":[1060.3,741.7],"nice":false,"zero":false},"axis":null}}},
{"data":{"values":[{"at":1,"bottom":3.49,"top":4.96},{"at":4,"bottom":3.97,"top":4.96}]},
"mark":{"type":"rule","color":"#111","strokeWidth":1.2,"strokeDash":[1.2,1.6]},
"encoding":{"x":{"field":"at","type":"quantitative","scale":{"domain":[0,1,2,3,4,5],"range":[306.7,350,414.2,497.5,559.5,598.3],"nice":false,"zero":false},"axis":null},
"y":{"field":"bottom","type":"quantitative","scale":{"domain":[0,21],"range":[1060.3,741.7],"nice":false,"zero":false},"axis":null},"y2":{"field":"top"}}},
{"data":{"values":[{"at":1,"level":20.46,"label":"**"},{"at":4,"level":20.46,"label":"**"}]},
"mark":{"type":"text","align":"center","baseline":"alphabetic","fontSize":15,"color":"#555"},
"encoding":{"x":{"field":"at","type":"quantitative","scale":{"domain":[0,1,2,3,4,5],"range":[306.7,350,414.2,497.5,559.5,598.3],"nice":false,"zero":false},"axis":null},
"y":{"field":"level","type":"quantitative","scale":{"domain":[0,21],"range":[1060.3,741.7],"nice":false,"zero":false},"axis":null},"text":{"field":"label"}}},
{"data":{"values":[{"at":4,"level":4.96,"label":"NS"}]},
"mark":{"type":"text","align":"center","baseline":"alphabetic","fontSize":15,"color":"#111","dy":-6.5},
"encoding":{"x":{"field":"at","type":"quantitative","scale":{"domain":[0,1,2,3,4,5],"range":[306.7,350,414.2,497.5,559.5,598.3],"nice":false,"zero":false},"axis":null},
"y":{"field":"level","type":"quantitative","scale":{"domain":[0,21],"range":[1060.3,741.7],"nice":false,"zero":false},"axis":null},"text":{"field":"label"}}},
{"data":{"values":[{"text":"I","x":-0.986,"y":7.67},{"text":"/I","x":-0.986,"y":9.81}]},
"mark":{"type":"text","align":"left","baseline":"alphabetic","fontSize":16,"angle":270,"color":"#000"},
"encoding":{"x":{"field":"x","type":"quantitative","scale":{"domain":[0,1,2,3,4,5],"range":[306.7,350,414.2,497.5,559.5,598.3],"nice":false,"zero":false},"axis":null},
"y":{"field":"y","type":"quantitative","scale":{"domain":[0,21],"range":[1060.3,741.7],"nice":false,"zero":false},"axis":null},"text":{"field":"text"}}},
{"data":{"values":[{"text":"ZnPy","x":-0.894,"y":7.96},{"text":"Control","x":-0.894,"y":10.4}]},
"mark":{"type":"text","align":"left","baseline":"alphabetic","fontSize":12,"angle":270,"color":"#000"},
"encoding":{"x":{"field":"x","type":"quantitative","scale":{"domain":[0,1,2,3,4,5],"range":[306.7,350,414.2,497.5,559.5,598.3],"nice":false,"zero":false},"axis":null},
"y":{"field":"y","type":"quantitative","scale":{"domain":[0,21],"range":[1060.3,741.7],"nice":false,"zero":false},"axis":null},"text":{"field":"text"}}},
{"data":{"values":[{"text":"E","x":-1.702,"y":19.27}]},
"mark":{"type":"text","align":"left","baseline":"alphabetic","fontSize":16,"fontWeight":"bold","color":"#000"},
"encoding":{"x":{"field":"x","type":"quantitative","scale":{"domain":[0,1,2,3,4,5],"range":[306.7,350,414.2,497.5,559.5,598.3],"nice":false,"zero":false},"axis":null},
"y":{"field":"y","type":"quantitative","scale":{"domain":[0,21],"range":[1060.3,741.7],"nice":false,"zero":false},"axis":null},"text":{"field":"text"}}}
]},
{"data":{"name":"barsE"},
"mark":{"type":"text","color":"#fff","fontSize":14.5,"baseline":"middle","align":"center"},
"encoding":{"x":{"field":"i","type":"quantitative","scale":{"domain":[0,1,2,3,4,5],"range":[306.7,350,414.2,497.5,559.5,598.3],"nice":false,"zero":false},"axis":null},
"y":{"field":"value","type":"quantitative","scale":{"domain":[0,42],"range":[1060.3,741.7],"nice":false,"zero":false},"axis":null},"text":{"field":"n"}}}
]
}
